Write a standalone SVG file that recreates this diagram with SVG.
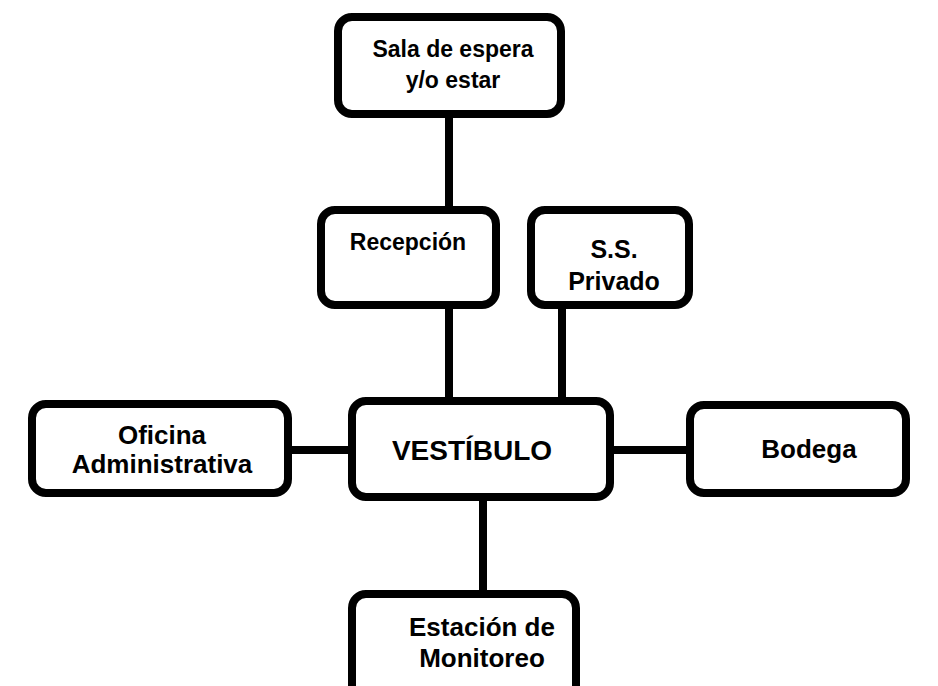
<svg xmlns="http://www.w3.org/2000/svg" width="938" height="686" viewBox="0 0 938 686">
<style>
.box{fill:#fff;stroke:#000;stroke-width:8}
.ln{stroke:#000;stroke-width:8;fill:none}
text{font-family:"Liberation Sans",Arial,sans-serif;font-weight:bold;font-size:26px;text-anchor:middle;fill:#000}
</style>
<rect width="938" height="686" fill="#fff"/>
<g id="connectors">
<line class="ln" x1="449" y1="114" x2="449" y2="210"/>
<line class="ln" x1="449" y1="305" x2="449" y2="401"/>
<line class="ln" x1="562" y1="305" x2="562" y2="401"/>
<line class="ln" x1="288" y1="450" x2="352" y2="450"/>
<line class="ln" x1="610" y1="450" x2="690" y2="450"/>
<line class="ln" x1="483" y1="497" x2="483" y2="594"/>
</g>
<g id="sala">
<rect class="box" x="338" y="17" width="223" height="97" rx="14"/>
<text x="453" y="57" style="font-size:23px">Sala de espera</text>
<text x="453" y="88" style="font-size:23px">y/o estar</text>
</g>
<g id="recepcion">
<rect class="box" x="321" y="210" width="175" height="95" rx="14"/>
<text x="408" y="250" style="font-size:23px">Recepción</text>
</g>
<g id="ss">
<rect class="box" x="531" y="210" width="158" height="95" rx="14"/>
<text x="614" y="258" style="font-size:25px">S.S.</text>
<text x="614" y="290" style="font-size:25px">Privado</text>
</g>
<g id="oficina">
<rect class="box" x="32" y="404" width="256" height="89" rx="14"/>
<text x="162" y="444">Oficina</text>
<text x="162" y="473">Administrativa</text>
</g>
<g id="vestibulo">
<rect class="box" x="352" y="401" width="258" height="96" rx="14"/>
<text x="472" y="460" style="font-size:28px">VESTÍBULO</text>
</g>
<g id="bodega">
<rect class="box" x="690" y="405" width="216" height="88" rx="14"/>
<text x="809" y="458">Bodega</text>
</g>
<g id="estacion">
<rect class="box" x="352" y="594" width="224" height="110" rx="14"/>
<text x="482" y="636">Estación de</text>
<text x="482" y="667">Monitoreo</text>
</g>
</svg>
